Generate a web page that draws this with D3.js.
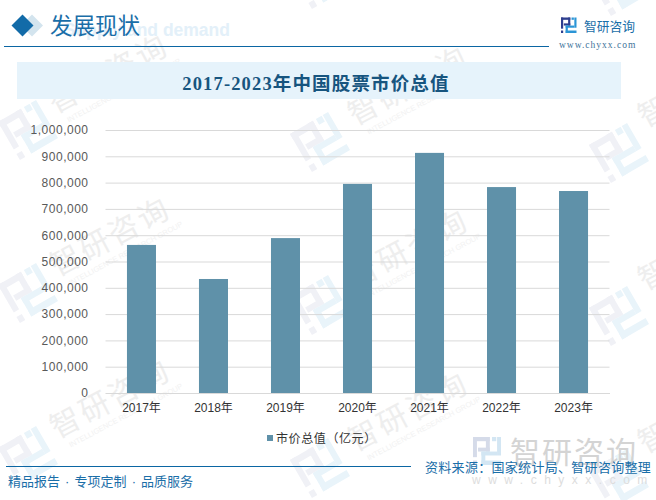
<!DOCTYPE html>
<html>
<head>
<meta charset="utf-8">
<script src="https://cdn.jsdelivr.net/npm/d3@7"></script>
<style>
  html, body { margin: 0; padding: 0; background: #fff; }
  svg { display: block; }
  text { font-family: "Liberation Sans", "Noto Sans CJK SC", sans-serif; }
</style>
</head>
<body>
<div id="chart"></div>
<script>
const years = ["2017年", "2018年", "2019年", "2020年", "2021年", "2022年", "2023年"];
const marketValues = [563000, 433500, 589000, 795000, 913000, 783000, 768000];
const yTicks = [0, 100000, 200000, 300000, 400000, 500000, 600000, 700000, 800000, 900000, 1000000];
const chartTitle = "2017-2023年中国股票市价总值";
const legendLabel = "市价总值（亿元）";
const sourceLabel = "资料来源：国家统计局、智研咨询整理";

const width = 656, height = 500;
const blue = "#0b66a3", barColor = "#5f91a9";

const svg = d3.select("#chart").append("svg")
  .attr("width", width)
  .attr("height", height);

// logo : deux formes découpées en bandes
function logo(g, s, c1, c2) {
  const bars = [
    [0, 0, 0.6, 0.15, c1], [0.46, 0, 0.14, 0.52, c1], [0.18, 0.38, 0.42, 0.14, c1],
    [0, 0, 0.14, 0.72, c1], [0, 0.84, 0.14, 0.16, c1],
    [0.68, 0, 0.15, 0.15, c2], [0.86, 0, 0.14, 0.66, c2], [0.3, 0.52, 0.56, 0.14, c2],
    [0.3, 0.52, 0.14, 0.48, c2], [0.3, 0.84, 0.7, 0.16, c2]
  ];
  g.selectAll("rect.l").data(bars).enter().append("rect")
    .attr("x", d => d[0] * s).attr("y", d => d[1] * s)
    .attr("width", d => d[2] * s).attr("height", d => d[3] * s)
    .attr("fill", d => d[4]);
}

// filigrane en fond
const wmLogos = [
  [320, -21], [619, -14],
  [28, 130], [320, 142], [619, 153],
  [28, 293], [320, 305], [619, 316],
  [28, 456], [320, 468], [619, 479]
];
const wmTexts = [
  [55, 114], [355, 126], [645, 128],
  [57, 277], [355, 289], [645, 291],
  [57, 439], [355, 452], [645, 454]
];
const wm = svg.append("g");
wmLogos.forEach(p => {
  const g = wm.append("g").attr("transform", `translate(${p[0]},${p[1]}) rotate(-30) translate(-22,-22)`);
  logo(g, 44, "#f0f1f6", "#e9f4fa");
});
wmTexts.forEach(p => {
  const g = wm.append("g").attr("transform", `translate(${p[0]},${p[1]}) rotate(-28)`);
  g.append("text").attr("font-size", 30).attr("letter-spacing", 3).attr("fill", "#eeeeee").text("智研咨询");
  g.append("text").attr("x", 8).attr("y", 14).attr("font-size", 7.5).attr("fill", "#f2f2f2").text("INTELLIGENCE RESEARCH GROUP");
});

// entête
svg.append("text").attr("x", 230).attr("y", 36).attr("text-anchor", "end").attr("font-size", 17.5).attr("font-weight", "bold")
  .attr("fill", "#e3f0f9").text("Supply and demand");
const diamond = d => `M${d[0] - 11},${d[1]} L${d[0]},${d[1] - 11} L${d[0] + 11},${d[1]} L${d[0]},${d[1] + 11} Z`;
svg.append("path").attr("d", diamond([32, 25.5])).attr("fill", "#d3e4ee");
svg.append("path").attr("d", diamond([22.5, 25.5])).attr("fill", "#126ba8");
svg.append("text").attr("x", 50).attr("y", 34).attr("font-size", 22.5)
  .style("font-family", "'Noto Sans CJK SC'").attr("fill", "#1a6ea8").text("发展现状");
svg.append("line").attr("x1", 4).attr("x2", 549).attr("y1", 46.5).attr("y2", 46.5)
  .attr("stroke", blue).attr("stroke-width", 1.2);

const head = svg.append("g").attr("transform", "translate(561,17.5)");
logo(head, 15.5, "#2e3f8f", "#2b95d6");
svg.append("text").attr("x", 584).attr("y", 31).attr("font-size", 12.75)
  .attr("fill", "#1a6ea8").text("智研咨询");
svg.append("text").attr("x", 559).attr("y", 48).attr("font-size", 9.5).attr("letter-spacing", 1)
  .style("font-family", "'Liberation Serif'").attr("fill", "#3d7299").text("www.chyxx.com");

// bandeau du titre
svg.append("rect").attr("x", 17).attr("y", 62).attr("width", 604).attr("height", 37).attr("fill", "#e6f3fb");
svg.append("text").attr("x", 316).attr("y", 90).attr("text-anchor", "middle")
  .attr("font-size", 18.5).attr("letter-spacing", 1.15).attr("font-weight", "bold").attr("fill", "#17557f")
  .style("font-family", "'Liberation Serif', 'Noto Sans CJK SC'").text(chartTitle);

// graphique
const x = d3.scaleBand().domain(years).range([105.5, 609.5]).paddingInner(0.597).paddingOuter(0.298);
const y = d3.scaleLinear().domain([0, 1000000]).range([393, 130]);

const yAxis = d3.axisLeft(y).tickValues(yTicks).tickFormat(d3.format(",")).tickSize(-(609.5 - 105.5)).tickPadding(17);
const gy = svg.append("g").attr("transform", "translate(105.5,0)").call(yAxis);
gy.select(".domain").remove();
gy.selectAll("line").attr("stroke", "#d9d9d9");
gy.selectAll("text").attr("font-size", 12).attr("fill", "#595959").attr("letter-spacing", 0.5);

svg.selectAll("rect.bar").data(marketValues).enter().append("rect")
  .attr("class", "bar")
  .attr("x", (d, i) => x(years[i]))
  .attr("y", d => y(d))
  .attr("width", x.bandwidth())
  .attr("height", d => y(0) - y(d))
  .attr("fill", barColor);

const xAxis = d3.axisBottom(x).tickSize(0).tickPadding(10);
const gx = svg.append("g").attr("transform", "translate(0,393)").call(xAxis);
gx.select(".domain").attr("stroke", "#d9d9d9");
gx.selectAll("text").attr("font-size", 12).attr("fill", "#333");

// légende
svg.append("rect").attr("x", 267).attr("y", 435).attr("width", 6).attr("height", 6).attr("fill", barColor);
svg.append("text").attr("x", 276).attr("y", 442.5).attr("font-size", 12).attr("letter-spacing", 0.6)
  .attr("fill", "#333").text(legendLabel);

// pied de page
svg.append("line").attr("x1", 6).attr("x2", 411).attr("y1", 466.5).attr("y2", 466.5)
  .attr("stroke", blue).attr("stroke-width", 1);
svg.append("text").attr("x", 8).attr("y", 486).attr("font-size", 13).attr("word-spacing", 1.5)
  .attr("fill", "#1a6ea8").text("精品报告 · 专项定制 · 品质服务");

const foot = svg.append("g").attr("transform", "translate(473,437)");
logo(foot, 28, "#d5dbe9", "#d3e6f3");
svg.append("text").attr("x", 510).attr("y", 463).attr("font-size", 30).attr("letter-spacing", 2).attr("fill", "#d4d4d4").text("智研咨询");
svg.append("text").attr("x", 472).attr("y", 484).attr("font-size", 12).attr("letter-spacing", 7.5).attr("fill", "#dddddd").text("www.chyxx.com");
svg.append("text").attr("x", 425).attr("y", 471.5).attr("font-size", 13).attr("letter-spacing", 0.3).attr("fill", "#1a6ea8").text(sourceLabel);
</script>
</body>
</html>
